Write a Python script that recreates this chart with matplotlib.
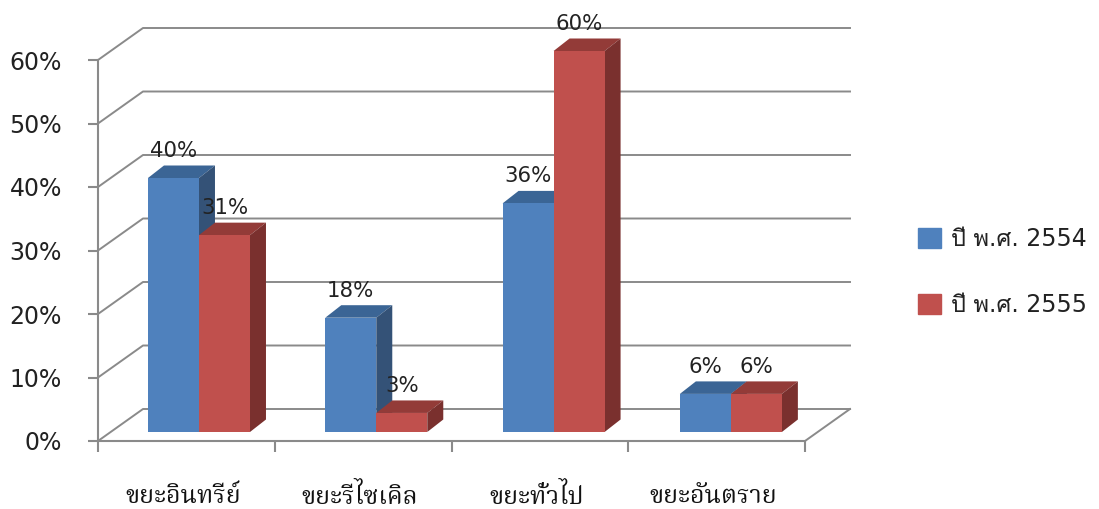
import matplotlib
matplotlib.use('Agg')
import matplotlib.pyplot as plt
from matplotlib.patches import Patch

# ข้อมูล
categories = ['ขยะอินทรีย์', 'ขยะรีไซเคิล', 'ขยะทั่วไป', 'ขยะอันตราย']
series_names = ['ปี พ.ศ. 2554', 'ปี พ.ศ. 2555']
values_2554 = [40, 18, 36, 6]
values_2555 = [31, 3, 60, 6]
y_ticks = [0, 10, 20, 30, 40, 50, 60]

# สี: หน้า, บน, ข้าง
blue = ('#4F81BD', '#3B6595', '#345277')
red = ('#C0504D', '#933B38', '#7A302E')
grid_col = '#8A8A8A'

W, H = 1099, 509
fig = plt.figure(figsize=(W / 100, H / 100), dpi=100)
ax = fig.add_axes([98 / W, (H - 441) / H, 707 / W, 381 / H])
ax.set_xlim(0, 4)
ax.set_ylim(0, 60)

# ความลึก 3 มิติ (หน่วยข้อมูล)
wall_dx, wall_dy = 45 / 176.75, 32 / 6.35
shift_dx, shift_dy = 12.6 / 176.75, 9 / 6.35
bar_dx, bar_dy = 16 / 176.75, 12.5 / 6.35
bar_w = 51 / 176.75
bar_pitch = 177.3 / 176.75

# เส้นกริด
for v in y_ticks:
    ax.plot([0, wall_dx, 4 + wall_dx], [v, v + wall_dy, v + wall_dy],
            color=grid_col, lw=1.4, clip_on=False, zorder=1)
ax.plot([4, 4 + wall_dx], [0, wall_dy], color=grid_col, lw=1.4, clip_on=False, zorder=1)


def draw_bars(vals, cols, x_off, order):
    for i, v in enumerate(vals):
        left = i * bar_pitch + 0.5 + shift_dx + x_off
        base = shift_dy
        top = base + v
        right = left + bar_w
        ax.fill([left, left + bar_dx, right + bar_dx, right],
                [top, top + bar_dy, top + bar_dy, top],
                color=cols[1], lw=0, clip_on=False, zorder=order)
        ax.fill([right, right + bar_dx, right + bar_dx, right],
                [base, base + bar_dy, top + bar_dy, top],
                color=cols[2], lw=0, clip_on=False, zorder=order)
        ax.bar(left, v, width=bar_w, bottom=base, align='edge',
               color=cols[0], lw=0, clip_on=False, zorder=order + 0.1)
        ax.annotate(f'{v}%', (left + bar_w / 2, top), xytext=(0, 19.5),
                    textcoords='offset points', ha='center', va='center',
                    fontsize=15.3, color='#222222', zorder=10, annotation_clip=False)


draw_bars(values_2554, blue, -bar_w, 3)
draw_bars(values_2555, red, 0, 4)

# แกน
for s in ['top', 'right']:
    ax.spines[s].set_visible(False)
for s in ['left', 'bottom']:
    ax.spines[s].set_color(grid_col)
    ax.spines[s].set_linewidth(1.5)
ax.set_yticks(y_ticks)
ax.set_yticklabels([f'{v}%' for v in y_ticks], fontsize=17, color='#222222')
ax.tick_params(axis='y', length=7, width=1.5, color=grid_col, pad=19)
ax.set_xticks(range(5))
ax.set_xticklabels([])
ax.tick_params(axis='x', length=8, width=1.5, color=grid_col)
ax.set_xticks([i + 0.48 for i in range(4)], minor=True)
ax.set_xticklabels(categories, minor=True, fontsize=18, color='#111111',
                   family=['Noto Serif Thai', 'FreeSerif', 'DejaVu Sans'])
ax.tick_params(axis='x', which='minor', length=0, pad=31)

# คำอธิบาย
handles = [Patch(color=blue[0]), Patch(color=red[0])]
fig.legend(handles, series_names, loc='upper left', bbox_to_anchor=(897 / W, 1 - 206 / H),
           frameon=False, handlelength=0.95, handleheight=0.95,
           handletextpad=0.42, labelspacing=1.78, labelcolor='#222222',
           prop={'family': ['DejaVu Sans', 'Loma'], 'size': 17})

fig.savefig('out.png', dpi=100)
